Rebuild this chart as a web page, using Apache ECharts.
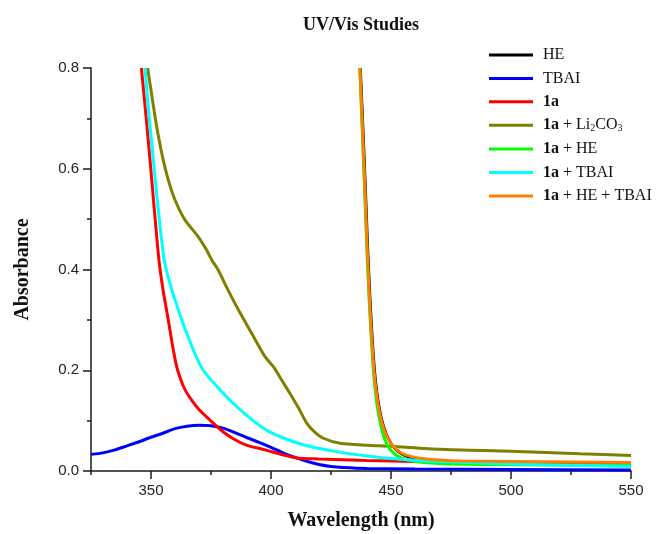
<!DOCTYPE html>
<html>
<head>
<meta charset="utf-8">
<script src="https://cdn.jsdelivr.net/npm/echarts@6/dist/echarts.min.js"></script>
<style>html,body{margin:0;padding:0;background:#fff}#c{width:664px;height:534px}</style>
</head>
<body>
<div id="c"></div>
<script>
// ---- data ----
const seriesNames = ['HE', 'TBAI', '1a', '1a + Li2CO3', '1a + HE', '1a + TBAI', '1a + HE + TBAI'];
const seriesColors = ['#000000', '#0000ff', '#ff0000', '#808000', '#00ff00', '#00ffff', '#ff8000'];

const xTickLabels = [350, 400, 450, 500, 550];
const xMinorTicks = [325, 375, 425, 475, 525];

const heWl  = [437.2, 438.2, 439.2, 440.2, 441.2, 442.2, 443.2, 444.2, 445.2, 446.2, 447.2, 448.2, 449.7, 451.2, 453.2, 455.7, 459.2, 463.2, 470, 480, 500, 525, 550];
const heAbs = [0.8, 0.69, 0.575, 0.45, 0.345, 0.26, 0.195, 0.152, 0.122, 0.10, 0.084, 0.071, 0.057, 0.047, 0.038, 0.031, 0.026, 0.022, 0.019, 0.017, 0.016, 0.015, 0.014];

const tbaiWl  = [325, 330, 335, 340, 345, 350, 355, 360, 365, 370, 375, 380, 385, 390, 395, 400, 405, 410, 415, 420, 425, 430, 440, 460, 500, 550];
const tbaiAbs = [0.033, 0.036, 0.042, 0.050, 0.058, 0.067, 0.075, 0.084, 0.089, 0.091, 0.090, 0.085, 0.076, 0.066, 0.057, 0.047, 0.036, 0.027, 0.019, 0.013, 0.009, 0.007, 0.005, 0.004, 0.003, 0.002];

const a1Wl  = [346, 348, 349.6, 351.4, 353.3, 355, 357.2, 359, 360.7, 362.5, 364.2, 367, 370, 374.6, 380, 385, 390, 397.5, 405, 410.7, 420, 440, 460, 500, 550];
const a1Abs = [0.8, 0.70, 0.617, 0.518, 0.419, 0.36, 0.30, 0.248, 0.207, 0.180, 0.161, 0.140, 0.122, 0.101, 0.078, 0.062, 0.051, 0.042, 0.032, 0.026, 0.024, 0.021, 0.019, 0.016, 0.013];

const liWl  = [348.6, 350.5, 352.4, 355.1, 357.2, 360, 364.2, 369.7, 373, 375.3, 378, 382, 386.4, 392, 397.5, 401, 404.5, 407.9, 411.5, 414.9, 418, 421.8, 428.75, 440, 449.6, 470.4, 500, 528.75, 550];
const liAbs = [0.8, 0.74, 0.683, 0.617, 0.578, 0.538, 0.498, 0.465, 0.44, 0.419, 0.399, 0.36, 0.32, 0.273, 0.227, 0.207, 0.18, 0.154, 0.125, 0.095, 0.078, 0.065, 0.055, 0.051, 0.049, 0.043, 0.039, 0.034, 0.031];

const heAWl  = [437, 438, 439, 440, 441, 442, 443, 444, 445, 446, 447, 448, 449.5, 451, 453, 456, 460, 470, 490, 520, 550];
const heAAbs = [0.8, 0.68, 0.56, 0.435, 0.33, 0.245, 0.18, 0.138, 0.108, 0.086, 0.069, 0.056, 0.044, 0.036, 0.029, 0.023, 0.019, 0.015, 0.013, 0.012, 0.011];

const tbAWl  = [347.5, 349, 351, 353, 355.5, 358, 360, 362.8, 366, 369, 371.8, 377, 383, 390, 397.5, 405, 415, 428, 440, 450, 470, 500, 550];
const tbAAbs = [0.8, 0.715, 0.617, 0.52, 0.419, 0.37, 0.34, 0.30, 0.26, 0.225, 0.20, 0.17, 0.14, 0.11, 0.083, 0.066, 0.050, 0.038, 0.030, 0.025, 0.019, 0.014, 0.009];

const allWl  = [437, 438, 439, 440, 441, 442, 443, 444, 445, 446, 447, 448, 449.5, 451, 453, 455.5, 459, 463, 470, 480, 500, 525, 550];
const allAbs = [0.8, 0.69, 0.575, 0.45, 0.345, 0.26, 0.195, 0.152, 0.122, 0.10, 0.084, 0.071, 0.058, 0.049, 0.040, 0.033, 0.028, 0.025, 0.022, 0.020, 0.019, 0.018, 0.017];

const seriesWl  = [heWl, tbaiWl, a1Wl, liWl, heAWl, tbAWl, allWl];
const seriesAbs = [heAbs, tbaiAbs, a1Abs, liAbs, heAAbs, tbAAbs, allAbs];

// ---- chart ----
const zip = (xs, ys) => xs.map((x, i) => [x, ys[i]]);
const chart = echarts.init(document.getElementById('c'), null, {renderer: 'canvas'});
const sans = 'Liberation Sans, Arial, sans-serif';
const serif = 'Liberation Serif, Times New Roman, serif';
const axisColor = '#1a1a1a';

const legendFmt = function (name) {
  if (name === '1a + Li2CO3') return '{b|1a}{n| + Li}{s|2}{n|CO}{s|3}';
  if (name.indexOf('1a') === 0) return '{b|1a}{n|' + name.slice(2) + '}';
  return '{n|' + name + '}';
};

const gridBox = {left: 91, right: 33, top: 68, bottom: 63, containLabel: false, outerBoundsMode: 'none'};

chart.setOption({
  animation: false,
  backgroundColor: '#ffffff',
  title: {
    text: 'UV/Vis Studies',
    left: 361, top: 16, textAlign: 'center', padding: 0,
    textStyle: {fontFamily: serif, fontWeight: 'bold', fontSize: 18, color: '#111'}
  },
  legend: {
    orient: 'vertical', left: 489, top: 47, padding: 0,
    itemWidth: 44, itemHeight: 3, itemGap: 7.4, icon: 'rect',
    data: seriesNames,
    formatter: legendFmt,
    textStyle: {
      fontFamily: serif, fontSize: 16, color: '#111', padding: [0, 0, 0, 5],
      rich: {
        n: {fontFamily: serif, fontSize: 16, color: '#111'},
        b: {fontFamily: serif, fontSize: 16, fontWeight: 'bold', color: '#111'},
        s: {fontFamily: serif, fontSize: 10, verticalAlign: 'bottom', padding: [7, 0, 0, 0], color: '#111'}
      }
    }
  },
  grid: [Object.assign({}, gridBox), Object.assign({}, gridBox)],
  xAxis: [
    {
      type: 'value', gridIndex: 0, min: 325, max: 550, interval: 25,
      name: 'Wavelength (nm)', nameLocation: 'middle', nameGap: 40,
      nameTextStyle: {fontFamily: serif, fontWeight: 'bold', fontSize: 20, color: '#111'},
      axisLine: {show: true, onZero: false, lineStyle: {color: axisColor, width: 1.5}},
      axisTick: {show: true, inside: false, length: 8, customValues: xTickLabels, lineStyle: {color: axisColor, width: 1.5}},
      axisLabel: {show: true, margin: 12, customValues: xTickLabels, fontFamily: sans, fontSize: 15, color: '#222'},
      splitLine: {show: false}
    },
    {
      type: 'value', gridIndex: 1, min: 325, max: 550, interval: 25,
      axisLine: {show: false},
      axisTick: {show: true, inside: false, length: 4, customValues: xMinorTicks, lineStyle: {color: axisColor, width: 1.5}},
      axisLabel: {show: false},
      splitLine: {show: false}
    }
  ],
  yAxis: [
    {
      type: 'value', gridIndex: 0, min: 0, max: 0.8, interval: 0.2,
      name: 'Absorbance', nameLocation: 'middle', nameGap: 58, nameRotate: 90,
      nameTextStyle: {fontFamily: serif, fontWeight: 'bold', fontSize: 20, color: '#111'},
      axisLine: {show: true, onZero: false, lineStyle: {color: axisColor, width: 1.5}},
      axisTick: {show: true, inside: false, length: 8, lineStyle: {color: axisColor, width: 1.5}},
      minorTick: {show: true, splitNumber: 2, length: 4, lineStyle: {color: axisColor, width: 1.5}},
      axisLabel: {margin: 12, fontFamily: sans, fontSize: 15, color: '#222', formatter: v => v.toFixed(1)},
      splitLine: {show: false}
    },
    {type: 'value', gridIndex: 1, min: 0, max: 0.8, show: false}
  ],
  series: seriesNames.map((name, i) => ({
    name: name,
    type: 'line',
    xAxisIndex: 0, yAxisIndex: 0,
    data: zip(seriesWl[i], seriesAbs[i]),
    showSymbol: false, symbol: 'none',
    smooth: 0.25,
    clip: true,
    lineStyle: {color: seriesColors[i], width: 3},
    itemStyle: {color: seriesColors[i]}
  }))
});
</script>
</body>
</html>
